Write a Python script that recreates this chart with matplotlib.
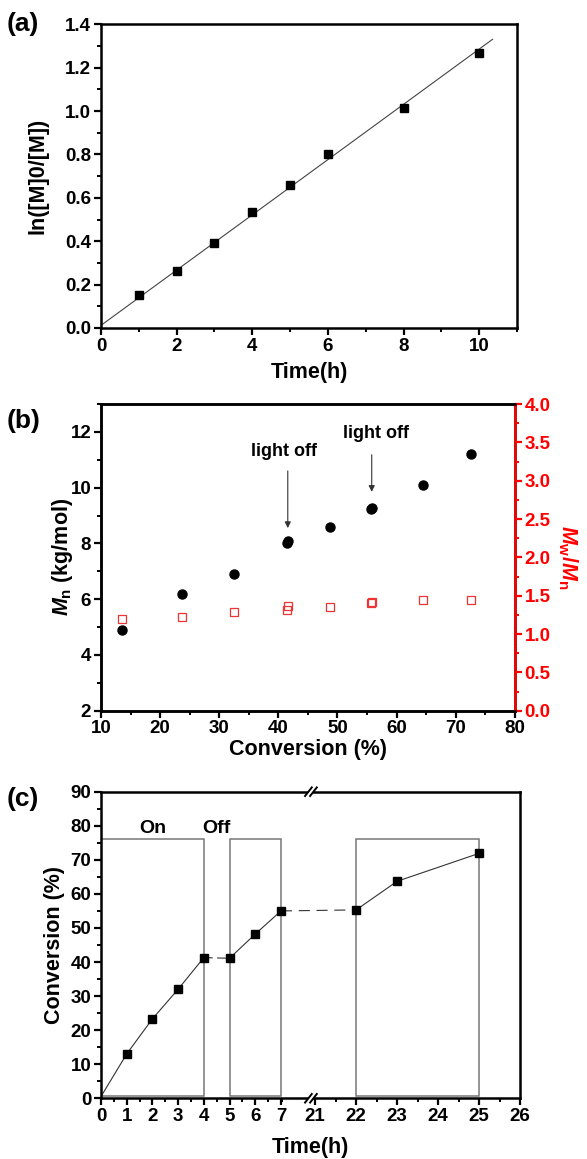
import numpy as np
import matplotlib
matplotlib.use('Agg')
import matplotlib.pyplot as plt
from matplotlib.ticker import MultipleLocator, FixedLocator
from matplotlib.patches import Rectangle

plt.rcParams['font.family'] = ['Liberation Sans', 'DejaVu Sans']
plt.rcParams['font.weight'] = 'bold'
plt.rcParams['axes.labelweight'] = 'bold'
plt.rcParams['mathtext.fontset'] = 'custom'
plt.rcParams['mathtext.rm'] = 'Liberation Sans:bold'
plt.rcParams['mathtext.it'] = 'Liberation Sans:bold:italic'
plt.rcParams['mathtext.bf'] = 'Liberation Sans:bold'

# (a) kinetics
time_a = [1, 2, 3, 4, 5, 6, 8, 10]
lnM_a = [0.15, 0.265, 0.39, 0.535, 0.66, 0.80, 1.015, 1.27]
fit_x = [0, 10.35]
fit_y = [0.012, 1.331]

# (b) Mn and PDI vs conversion
conv_b = [13.5, 23.7, 32.5, 41.5, 41.7, 48.7, 55.6, 55.9, 64.4, 72.6]
mn_b = [4.9, 6.2, 6.9, 8.0, 8.09, 8.6, 9.22, 9.28, 10.1, 11.2]
pdi_b = [1.2, 1.22, 1.29, 1.31, 1.365, 1.356, 1.40, 1.418, 1.44, 1.44]

# (c) on/off
time_c = [0, 1, 2, 3, 4, 5, 6, 7, 22, 23, 25]
conv_c = [0.5, 13.0, 23.3, 32.0, 41.3, 41.1, 48.2, 55.0, 55.3, 63.7, 71.9]
on_boxes = [(0, 4), (5, 7), (22, 25)]

TICK = 13.5
LAB = 15.5
PANEL = 19

fig = plt.figure(figsize=(5.87, 11.59), dpi=100)

def style(ax):
    for s in ax.spines.values():
        s.set_linewidth(1.8)
    ax.tick_params(which='major', direction='out', length=5, width=1.6, labelsize=TICK, pad=2)
    ax.tick_params(which='minor', direction='out', length=3, width=1.4)
    ax.tick_params(top=False, right=False, which='both')

# ---------- (a)
ax1 = fig.add_axes([0.172, 0.717, 0.709, 0.262])
ax1.plot(fit_x, fit_y, color='#444444', lw=0.8)
ax1.plot(time_a, lnM_a, 's', color='black', ms=5.5)
ax1.set_xlim(0, 11)
ax1.set_ylim(0, 1.4)
ax1.xaxis.set_major_locator(MultipleLocator(2))
ax1.xaxis.set_minor_locator(MultipleLocator(1))
ax1.yaxis.set_major_locator(MultipleLocator(0.2))
ax1.yaxis.set_minor_locator(MultipleLocator(0.1))
ax1.yaxis.set_major_formatter(matplotlib.ticker.FormatStrFormatter('%.1f'))
ax1.set_xlabel('Time(h)', fontsize=LAB, labelpad=5)
ax1.set_ylabel('ln([M]0/[M])', fontsize=LAB, labelpad=12)
style(ax1)
fig.text(0.012, 0.979, '(a)', fontsize=PANEL, va='center')

# ---------- (b)
ax2 = fig.add_axes([0.172, 0.3868, 0.705, 0.2646])
ax2.plot(conv_b, mn_b, 'o', color='black', ms=6.5)
ax2.set_xlim(10, 80)
ax2.set_ylim(2, 13)
ax2.xaxis.set_major_locator(MultipleLocator(10))
ax2.xaxis.set_minor_locator(MultipleLocator(5))
ax2.yaxis.set_major_locator(MultipleLocator(2))
ax2.yaxis.set_minor_locator(MultipleLocator(1))
ax2.set_xlabel('Conversion (%)', fontsize=LAB, labelpad=1)
ax2.set_ylabel(r'$M_\mathrm{n}$ (kg/mol)', fontsize=LAB, labelpad=-3)
style(ax2)
ax2.annotate('', xy=(41.6, 8.45), xytext=(41.6, 10.7),
             arrowprops=dict(arrowstyle='-|>', color='#333333', lw=0.8, mutation_scale=9))
ax2.text(41.0, 11.3, 'light off', fontsize=13, ha='center', va='center')
ax2.annotate('', xy=(55.8, 9.75), xytext=(55.8, 11.28),
             arrowprops=dict(arrowstyle='-|>', color='#333333', lw=0.8, mutation_scale=9))
ax2.text(56.5, 11.94, 'light off', fontsize=13, ha='center', va='center')
fig.text(0.012, 0.637, '(b)', fontsize=PANEL, va='center')

ax2r = ax2.twinx()
ax2r.plot(conv_b, pdi_b, 's', mfc='none', mec='#ee3333', mew=0.9, ms=5.5)
ax2r.set_ylim(0, 4.0)
ax2r.yaxis.set_major_locator(MultipleLocator(0.5))
ax2r.yaxis.set_minor_locator(MultipleLocator(0.25))
ax2r.yaxis.set_major_formatter(matplotlib.ticker.FormatStrFormatter('%.1f'))
for s in ax2r.spines.values():
    s.set_linewidth(1.8)
ax2r.spines['right'].set_color('red')
ax2r.tick_params(axis='y', which='major', direction='out', length=5, width=1.6,
                 labelsize=TICK, colors='red', pad=2)
ax2r.tick_params(axis='y', which='minor', direction='out', length=3, width=1.4, colors='red')
ax2r.set_ylabel(r'$M_\mathrm{w}/M_\mathrm{n}$', fontsize=LAB, color='red', rotation=270, labelpad=21)

# ---------- (c) broken x axis
bx = [0, 7, 21, 26]
bu = [0, 7, 8.33, 16.3]

def fwd(x):
    return np.interp(x, bx, bu)

def inv(u):
    return np.interp(u, bu, bx)

ax3 = fig.add_axes([0.172, 0.0524, 0.714, 0.2645])
ax3.set_xscale('function', functions=(fwd, inv))
ax3.set_xlim(0, 26)
ax3.set_ylim(0, 90)

for x0, x1 in on_boxes:
    ax3.add_patch(Rectangle((x0, 0.7), x1 - x0, 75.5, fill=False, ec='#777777', lw=1.1))

t = np.array(time_c)
c = np.array(conv_c)
segs = [(0, 5, '-'), (4, 6, (0, (8, 4))), (5, 8, '-'), (7, 9, (0, (10, 6))), (8, 11, '-')]
for i0, i1, ls in segs:
    ax3.plot(t[i0:i1], c[i0:i1], color='#333333', lw=0.8, ls=ls)
ax3.plot(t[1:], c[1:], 's', color='black', ms=5.5)

ax3.xaxis.set_major_locator(FixedLocator([0, 1, 2, 3, 4, 5, 6, 7, 21, 22, 23, 24, 25, 26]))
ax3.xaxis.set_minor_locator(FixedLocator([0.5, 1.5, 2.5, 3.5, 4.5, 5.5, 6.5, 7.5,
                                          21.5, 22.5, 23.5, 24.5, 25.5]))
ax3.xaxis.set_major_formatter(matplotlib.ticker.FormatStrFormatter('%d'))
ax3.yaxis.set_major_locator(MultipleLocator(10))
ax3.yaxis.set_minor_locator(MultipleLocator(5))
ax3.set_xlabel('Time(h)', fontsize=LAB, labelpad=9)
ax3.set_ylabel('Conversion (%)', fontsize=LAB, labelpad=4)
style(ax3)
ax3.text(2.0, 79.3, 'On', fontsize=14, ha='center', va='center')
ax3.text(4.5, 79.3, 'Off', fontsize=14, ha='center', va='center')
fig.text(0.012, 0.311, '(c)', fontsize=PANEL, va='center')

# break marks
bxf = 0.501
for yb in (0, 1):
    ax3.add_patch(Rectangle((bxf - 0.006, yb - 0.012), 0.012, 0.024, transform=ax3.transAxes,
                            fc='white', ec='none', clip_on=False, zorder=5))
    for dx in (-0.006, 0.006):
        ax3.plot([bxf + dx - 0.008, bxf + dx + 0.008], [yb - 0.014, yb + 0.014],
                 transform=ax3.transAxes, color='black', lw=1.4, clip_on=False, zorder=6)

fig.savefig('out.png', dpi=100)
